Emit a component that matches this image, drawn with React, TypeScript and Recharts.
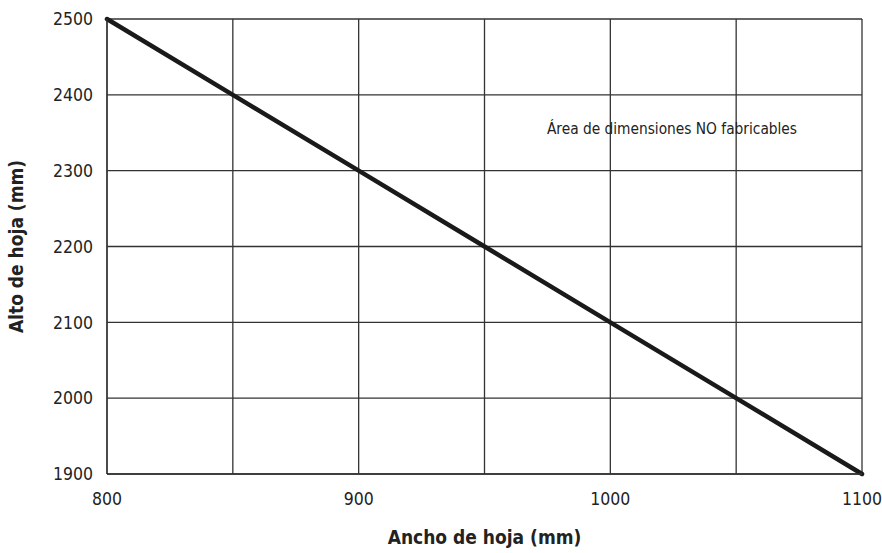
import React from "react";
import { LineChart, Line, XAxis, YAxis, CartesianGrid, ReferenceDot } from "recharts";

const anchoHoja = [800, 850, 900, 950, 1000, 1050, 1100];
const altoHoja = [2500, 2400, 2300, 2200, 2100, 2000, 1900];
const xTicks = [800, 900, 1000, 1100];
const yTicks = [1900, 2000, 2100, 2200, 2300, 2400, 2500];
const xGrid = [800, 850, 900, 950, 1000, 1050, 1100];

const data = anchoHoja.map((x, i) => ({ x, y: altoHoja[i] }));

const FONT = "'DejaVu Sans Condensed', 'Liberation Sans Narrow', Arial, sans-serif";

export default function App() {
  return (
    <div style={{ position: "absolute", left: 0, top: 0, width: 882, height: 553, background: "#fff", fontFamily: FONT }}>
      <LineChart width={882} height={553} data={data} margin={{ top: 19, right: 20, left: 0, bottom: 0 }}>
        <CartesianGrid
          stroke="#333"
          strokeWidth={1.3}
          horizontal={true}
          vertical={true}
          verticalValues={xGrid}
          horizontalValues={yTicks}
        />
        <XAxis
          dataKey="x"
          type="number"
          domain={[800, 1100]}
          ticks={xTicks}
          axisLine={{ stroke: "#333", strokeWidth: 1.3 }}
          tickLine={false}
          tickSize={0}
          tickMargin={19}
          height={79}
          tick={{ fill: "#222", fontSize: 17.5, fontFamily: FONT }}
          label={{ value: "Ancho de hoja (mm)", position: "insideBottom", offset: 9, fill: "#222", fontSize: 19, fontWeight: "bold", fontFamily: FONT }}
        />
        <YAxis
          dataKey="y"
          type="number"
          domain={[1900, 2500]}
          ticks={yTicks}
          axisLine={{ stroke: "#333", strokeWidth: 1.3 }}
          tickLine={false}
          tickSize={0}
          tickMargin={14}
          width={107}
          tick={{ fill: "#222", fontSize: 17.5, fontFamily: FONT }}
          label={{ value: "Alto de hoja (mm)", angle: -90, position: "insideLeft", offset: 16, fill: "#222", fontSize: 19, fontWeight: "bold", fontFamily: FONT, style: { textAnchor: "middle" } }}
        />
        <Line
          dataKey="y"
          stroke="#1a1a1a"
          strokeWidth={4.5}
          strokeLinecap="round"
          dot={false}
          activeDot={false}
          isAnimationActive={false}
        />
        <ReferenceDot
          x={1024.5}
          y={2355}
          r={0}
          label={{ value: "Área de dimensiones NO fabricables", position: "center", fill: "#222", fontSize: 15.3, fontFamily: FONT }}
        />
      </LineChart>
    </div>
  );
}
